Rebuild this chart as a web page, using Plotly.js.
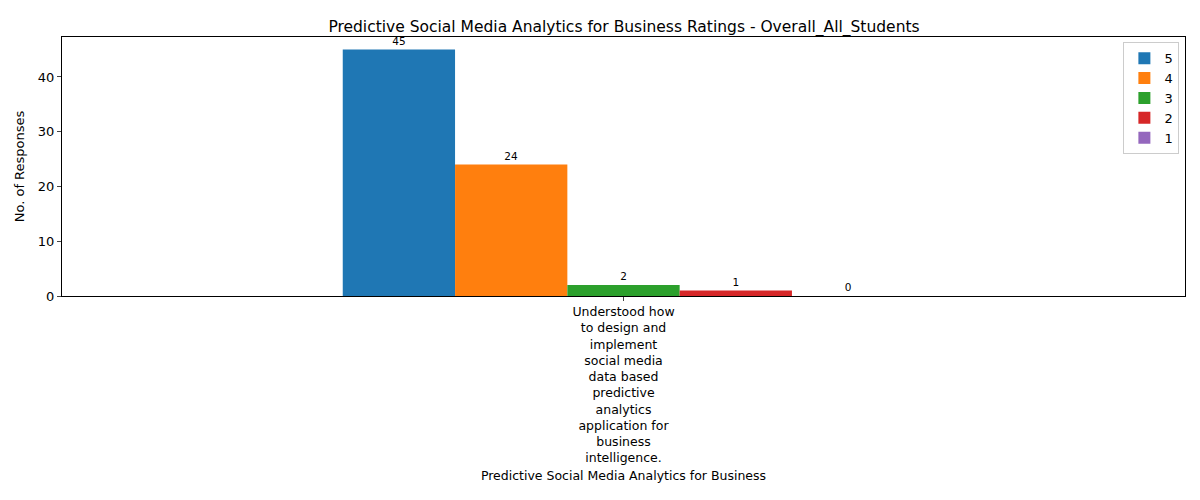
<!DOCTYPE html>
<html>
<head>
<meta charset="utf-8">
<script src="https://cdn.plot.ly/plotly-3.0.1.min.js"></script>
<style>body{margin:0}#chart{width:1200px;height:500px}</style>
</head>
<body>
<div id="chart"></div>
<script>
var categories = ['Understood how<br>to design and<br>implement<br>social media<br>data based<br>predictive<br>analytics<br>application for<br>business<br>intelligence.'];
var ratings = ['5', '4', '3', '2', '1'];
var counts = [[45], [24], [2], [1], [0]];
var colors = ['#1f77b4', '#ff7f0e', '#2ca02c', '#d62728', '#9467bd'];

var data = [];
for (var i = 0; i < ratings.length; i++) {
    data.push({
        type: 'bar',
        name: ratings[i],
        x: categories,
        y: counts[i],
        marker: {color: colors[i]},
        text: counts[i].map(String),
        textposition: 'outside',
        textfont: {size: 10.5, color: '#000'},
        cliponaxis: false
    });
}

var layout = {
    font: {family: 'DejaVu Sans', color: '#000'},
    width: 1200, height: 500,
    margin: {l: 62, r: 15, t: 37, b: 204},
    paper_bgcolor: '#fff', plot_bgcolor: '#fff',
    barmode: 'group', bargap: 0.5, bargroupgap: 0,
    title: {text: 'Predictive Social Media Analytics for Business Ratings - Overall_All_Students',
            font: {size: 15.5}, x: 0.52, xanchor: 'center',
            yref: 'paper', y: 1, yanchor: 'bottom', pad: {b: 5}},
    xaxis: {
        type: 'category', showline: true, mirror: true, linecolor: '#000',
        ticks: 'outside', ticklen: 4, tickfont: {size: 12.5},
        title: {text: 'Predictive Social Media Analytics for Business', font: {size: 12.5}, standoff: 6}
    },
    yaxis: {
        range: [0, 47.3], showline: true, mirror: true, linecolor: '#000',
        showgrid: false, zeroline: false, ticks: 'outside', ticklen: 4,
        dtick: 10, tickfont: {size: 13},
        title: {text: 'No. of Responses', font: {size: 13}, standoff: 10}
    },
    legend: {x: 0.995, y: 0.98, xanchor: 'right', yanchor: 'top',
             bordercolor: '#ccc', borderwidth: 1, font: {size: 13}}
};

Plotly.newPlot('chart', data, layout, {displayModeBar: false});
</script>
</body>
</html>
